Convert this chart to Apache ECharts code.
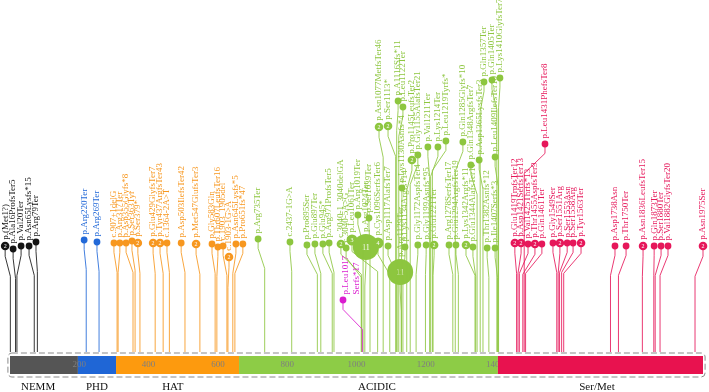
<!DOCTYPE html>
<html><head><meta charset="utf-8">
<script src="https://cdn.jsdelivr.net/npm/echarts@6/dist/echarts.min.js"></script>
<style>html,body{margin:0;padding:0;background:#fff}#c{width:709px;height:392px}</style>
</head><body><div id="c"></div>
<script>
// ---------------- data ----------------
const domainNames  = ['NEMM', 'PHD', 'HAT', 'ACIDIC', 'Ser/Met'];
const domainStart  = [0, 196, 306, 661, 1408];
const domainEnd    = [196, 306, 661, 1408, 2000];
const domainLabelPos = [81, 251, 470, 1059, 1694];
const tickValues   = [200, 400, 600, 800, 1000, 1200, 1400, 1600, 1800, 2000];

// mutations: label, protein position, displayed head position, head height, count, group
const mutLabels = [
  'p.(Met1?)','p.Ala16ProfsTer5','p.Val20Ter','p.Asn65Lysfs*15','p.Arg79Ter',
  'p.Arg220Ter','p.Arg269Ter',
  'c.907+1delG','p.Arg317Ter','p.Asp355Glyfs*8','p.Ser363Tyr','p.Ser379*','p.Glu429GlyfsTer7','p.Tyr437ArgfsTer43','c.1364-2A>T','p.Asp503IlefsTer42','p.Met547GlufsTer3','p.Gly583Gln','p.Thr607LeufsTer16','c.1903_1905del','c.1903-1G>A','p.Asn645Lysfs*5','p.Pro651fs*47',
  'p.Arg735Ter','c.2437-1G>A','p.Pro895Ser','p.Glu897Ter','p.Glu945*','p.Arg971ProfsTer5',
  'c.3040-1_3040delGA','c.3040-5A>G','p.Leu1061Ter','p.Arg1024Ter','p.Arg1019Ter','p.Ser1039Ter','p.Cys1096SerfsTer6','p.Asn1077MetfsTer46','p.Asp1117AlafsTer7','p.Ser1113*','p.Arg1129Ter','p.A1116Sfs*11','p.Lys1130Asnfs*4','p.Leu1122Ter','p.Lys1134Argfs*14','p.Pro1145LeufsTer2','p.Gly1155AlafsTer21','p.Gly1172AspfsTer4','p.Gly1199Asnfs*95','p.Val1211Ter','p.Glu1221Ter','p.Lys1214Ter','p.Leu1219Tyrfs*','p.Arg1278SerfsTer17','p.Glu1294ArgfsTer19','p.Gln1285Glyfs*10','p.Lys1342Argfs*11','p.Glu1344AlafsTer11','p.Gln1348ArgfsTer7','p.Asp1365LysfsTer3','p.Gln1357Ter','p.Thr1382Asnfs*12','p.Gln1405Ter','p.Ile1407Serfs*3','p.Leu1409IlefsTer10','p.Lys1410GlyfsTer7',
  'p.Leu1017\nSerfs*17',
  'p.Glu1419TrpfsTer12','p.Asp1421SerfsTer13','p.Val1425Thrfs*13','p.Thr1455AspfsTer9','p.Gln1461Ter','p.Leu1431PhefsTer8','p.Gly1549Ser','p.Ser1551Arg','p.Ser1553Asn','p.Ser1558Arg','p.Tyr1563Ter','p.Asp1738Asn','p.Thr1750Ter','p.Asn1836LeufsTer15','p.Gln1873Ter','p.Ser1880Ter','p.Val1882GlyfsTer20','p.Asn1975Ser'
];
const mutPos = [
  1,16,20,70,79,
  220,257,
  309,312,355,361,375,419,442,460,505,548,592,597,626,629,643,649,
  735,813,887,897,930,935,
  1014,1014,1061,1024,1019,1039,1096,1077,1117,1113,1129,1116,1130,1122,1134,1145,1155,1172,1199,1211,1221,1214,1219,1278,1294,1285,1342,1344,1348,1365,1357,1382,1405,1407,1409,1410,
  1017,
  1462,1466,1470,1480,1488,1484,1578,1582,1586,1592,1598,1733,1756,1825,1858,1862,1876,1977
];
const mutHeadPos = [
  -14,9,32,55,75,
  214,251,
  300,317,335,352,369,413,433,453,494,537,583,600,615,632,652,672,
  716,808,857,880,903,921,
  955,970,987,1027,1004,1036,1062,1065,1091,1091,1126,1120,1131,1134,1140,1160,1177,1177,1201,1206,1224,1235,1258,1267,1287,1307,1316,1336,1330,1354,1368,1377,1391,1400,1400,1414,
  961,
  1457,1475,1495,1515,1535,1544,1567,1587,1608,1625,1648,1746,1778,1827,1859,1879,1899,2000
];
const mutHeadHeight = [
  106,103,106,106,110,
  112,110,
  109,109,109,111,109,109,109,109,109,108,108,105,106,95,108,108,
  113,110,107,108,108,109,
  108,104,112,105,137,134,109,225,106,226,80,251,164,245,105,192,197,107,107,205,107,205,211,107,107,210,107,105,187,192,270,104,272,104,195,274,
  52,
  109,109,108,108,108,208,109,109,109,109,109,106,106,106,106,106,106,106
];
const mutCount = [
  2,1,1,1,1,
  1,1,
  1,1,1,1,2,2,2,1,1,2,1,1,1,2,1,1,
  1,1,1,1,1,1,
  2,1,3,11,1,1,4,2,1,2,11,1,1,1,1,2,1,1,1,1,2,1,1,1,1,1,2,1,1,1,1,1,1,1,1,1,
  1,
  2,2,1,2,1,1,1,2,1,1,2,1,1,2,1,1,1,2
];
const mutGroup = [
  0,0,0,0,0,
  1,1,
  2,2,2,2,2,2,2,2,2,2,2,2,2,2,2,2,
  3,3,3,3,3,3,
  3,3,3,3,3,3,3,3,3,3,3,3,3,3,3,3,3,3,3,3,3,3,3,3,3,3,3,3,3,3,3,3,3,3,3,3,
  5,
  4,4,4,4,4,4,4,4,4,4,4,4,4,4,4,4,4,4
];

// ---------------- styles ----------------
const domainColors = ['#555555', '#1f66d6', '#fd9a0e', '#8dcc46', '#e8124f'];
const groupColors  = ['#141414', '#2269d8', '#f7971f', '#8dc63f', '#e6175a', '#da1ccf'];
const SERIF = '"Liberation Serif","Times New Roman",serif';

const chart = echarts.init(document.getElementById('c'), null, {renderer: 'canvas'});

const mutData = mutLabels.map((l, i) => [mutPos[i], mutHeadPos[i], mutHeadHeight[i], mutCount[i], mutGroup[i], i]);
const domData = domainNames.map((n, i) => [domainStart[i], domainEnd[i], domainLabelPos[i], i]);
const tickData = tickValues.map(v => [v]);

function renderMut(params, api) {
  const i = api.value(5);
  const base = api.coord([api.value(0), 0]);
  const head = api.coord([api.value(1), api.value(2)]);
  const cnt = api.value(3);
  const col = groupColors[api.value(4)];
  const r = cnt >= 10 ? 13 : cnt >= 3 ? 5.5 : cnt === 2 ? 4.3 : 3.4;
  const yB1 = Math.min(base[1], head[1] + r + 26);
  const yB2 = Math.min(base[1], head[1] + r + 6);
  const label = mutLabels[i];
  const multi = label.indexOf('\n') >= 0;
  const children = [
    {type: 'polyline', shape: {points: [base, [base[0], yB1], [head[0], yB2], head]},
     style: {stroke: col, lineWidth: 1, fill: 'none', opacity: 0.85}},
    {type: 'circle', shape: {cx: head[0], cy: head[1], r: r}, style: {fill: col}}
  ];
  if (cnt > 1) {
    children.push({type: 'text', x: head[0], y: head[1] + 0.5,
      style: {text: String(cnt), fill: '#fff', fontSize: cnt >= 10 ? 8 : 6, fontFamily: SERIF, align: 'center', verticalAlign: 'middle'}});
  }
  children.push({type: 'text', x: multi ? head[0] - 3 : head[0], y: head[1] - r - 2, rotation: Math.PI / 2,
    style: {text: label, fill: col, fontSize: 9, lineHeight: 11, fontFamily: SERIF, align: 'left', verticalAlign: multi ? 'top' : 'middle'}});
  return {type: 'group', children: children};
}

function renderDomain(params, api) {
  const i = api.value(3);
  const p0 = api.coord([api.value(0), -4]);
  const p1 = api.coord([api.value(1), -22]);
  const lp = api.coord([api.value(2), -35]);
  const children = [
    {type: 'rect', z2: i === 4 ? 10 : 0, shape: {x: p0[0], y: p0[1], width: p1[0] - p0[0], height: p1[1] - p0[1]}, style: {fill: domainColors[i]}},
    {type: 'text', x: lp[0], y: lp[1], style: {text: domainNames[i], fill: '#111', fontSize: 11, fontFamily: SERIF, align: 'center', verticalAlign: 'middle'}}
  ];
  if (i === 0) {
    const a = api.coord([-6, -1]);
    const b = api.coord([2006, -25]);
    children.push({type: 'rect', shape: {x: a[0], y: a[1], width: b[0] - a[0], height: b[1] - a[1], r: 4},
      style: {fill: 'none', stroke: '#8a8a8a', lineWidth: 1, lineDash: [6, 3]}});
  }
  return {type: 'group', children: children};
}

function renderTick(params, api) {
  const v = api.value(0);
  const p = api.coord([v, -13]);
  return {type: 'text', z2: 5, x: v === 2000 ? p[0] - 10 : p[0], y: p[1],
    style: {text: String(v), fill: '#7f7f7f', fontSize: 9, fontFamily: SERIF, align: 'center', verticalAlign: 'middle'}};
}

chart.setOption({
  animation: false,
  grid: {left: 10, right: 6, top: 0, bottom: 0},
  xAxis: {type: 'value', min: 0, max: 2000, interval: 200, show: false},
  yAxis: {type: 'value', min: -40, max: 352, show: false},
  series: [
    {type: 'custom', z: 2, clip: false, renderItem: renderDomain, data: domData},
    {type: 'custom', z: 2, clip: false, renderItem: renderTick, data: tickData},
    {type: 'custom', z: 3, clip: false, renderItem: renderMut, data: mutData}
  ]
});
</script>
</body></html>
